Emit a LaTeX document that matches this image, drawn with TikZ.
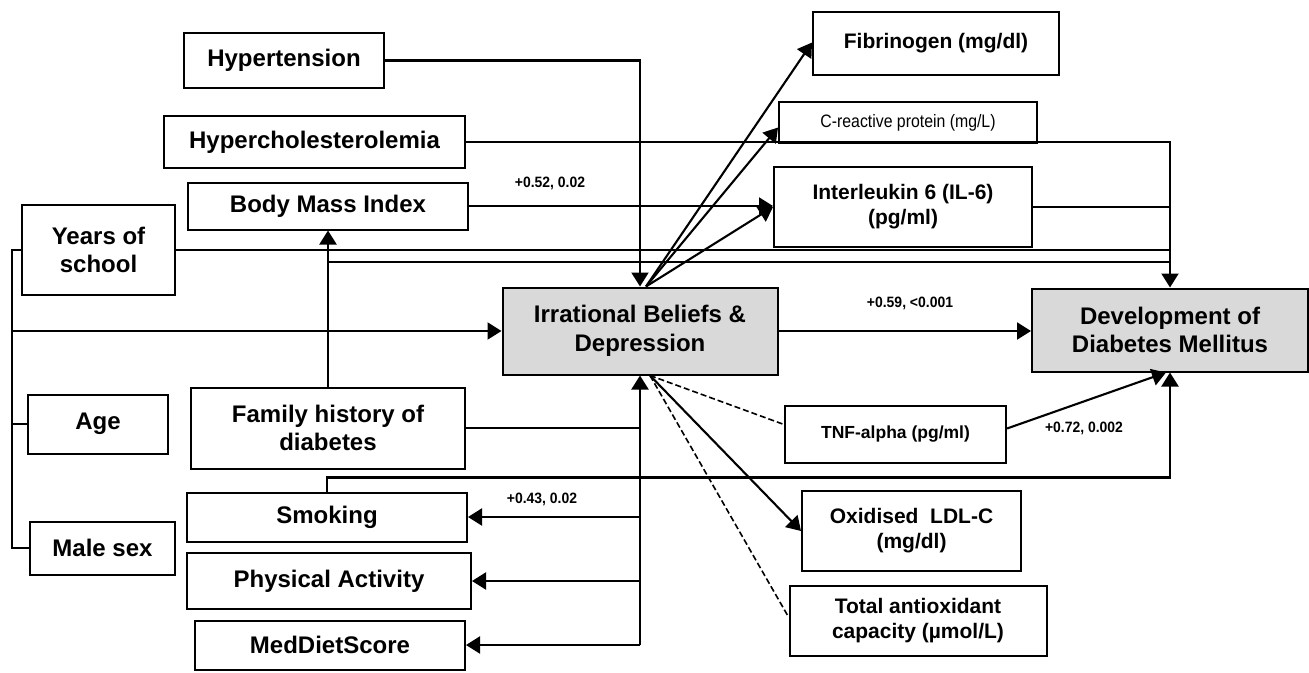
\documentclass[tikz,border=0pt]{standalone}
\usepackage{fontspec}
\setmainfont{Liberation Sans}
\newfontfamily\narrowf[FakeStretch=0.88]{Liberation Sans}
\newfontfamily\labf[FakeStretch=0.93]{Liberation Sans}
\usetikzlibrary{arrows.meta}
\definecolor{boxgray}{HTML}{D9D9D9}
\begin{document}
\begin{tikzpicture}[x=1pt,y=-1pt,
  box/.style={draw,line width=2pt,inner sep=0pt,align=center,font=\fontsize{24}{28.5}\selectfont\bfseries},
  mbox/.style={box,font=\fontsize{21}{25}\selectfont\bfseries},
  gbox/.style={box,fill=boxgray},
  conn/.style={line width=2.1pt},
  arr/.style={conn,-{Triangle[length=14pt,width=17pt]}},
  dsh/.style={line width=1.6pt,dash pattern=on 6pt off 3pt},
  lab/.style={font=\labf\fontsize{15}{18}\selectfont\bfseries}
]
\useasboundingbox (0,0) rectangle (1309,672);

% left column boxes
\node[box,minimum width=200pt,minimum height=55pt] (hyp) at (284,60.5) {Hypertension};
\node[box,minimum width=301pt,minimum height=52pt] (hchol) at (314.5,142) {Hypercholesterolemia};
\node[box,minimum width=280pt,minimum height=47pt] (bmi) at (328,206) {Body Mass Index};
\node[box,minimum width=153pt,minimum height=90pt] (years) at (98.5,250) {Years of\\school};
\node[box,minimum width=140pt,minimum height=59pt] (age) at (98,424) {Age};
\node[box,minimum width=145pt,minimum height=53pt] (male) at (102.5,548) {Male sex};
\node[box,minimum width=274pt,minimum height=81pt] (fam) at (328,428) {Family history of\\diabetes};
\node[box,minimum width=280pt,minimum height=49pt] (smok) at (327,517) {Smoking};
\node[box,minimum width=284pt,minimum height=56pt] (phys) at (329,581) {Physical Activity};
\node[box,minimum width=270pt,minimum height=49pt] (med) at (330,645) {MedDietScore};

% central boxes
\node[gbox,minimum width=275pt,minimum height=87pt] (ib) at (640,331) {Irrational Beliefs \&\\Depression};
\node[gbox,minimum width=276pt,minimum height=83pt] (dm) at (1170,330) {Development of\\Diabetes Mellitus};

% right column boxes
\node[mbox,minimum width=246pt,minimum height=63pt] (fib) at (936,43.5) {Fibrinogen (mg/dl)};
\node[box,font=\narrowf\fontsize{18}{21}\selectfont,minimum width=258pt,minimum height=41pt] (crp) at (908,122.5) {C-reactive protein (mg/L)};
\node[mbox,minimum width=258pt,minimum height=80pt] (il6) at (903,207) {Interleukin 6 (IL-6)\\(pg/ml)};
\node[box,font=\fontsize{17.5}{21}\selectfont\bfseries,minimum width=221pt,minimum height=57pt] (tnf) at (895.5,434.5) {TNF-alpha (pg/ml)};
\node[mbox,minimum width=219pt,minimum height=80pt] (ox) at (911.5,531) {Oxidised\ \ LDL-C\\(mg/dl)};
\node[mbox,minimum width=257pt,minimum height=70pt] (tac) at (918,621) {Total antioxidant\\capacity (µmol/L)};

% helper coordinates
\coordinate (bt) at (12,250);
\coordinate (bl) at (12,548);
\coordinate (famj) at (328,262);

% connectors into Irrational Beliefs
\draw[arr] (hyp.east) -| (ib.north);
\draw[conn] (years.west) -- (bt) -- (bl) -- (male.west);
\draw[conn] (age.west) -- (age.west -| bt);
\draw[arr] (ib.west -| bt) -- (ib.west);
\draw[conn] (fam.east) -- (fam.east -| ib.south);
\draw[arr] (med.east -| ib.south) -- (ib.south);
\draw[arr] (smok.east -| ib.south) -- (smok.east);
\draw[arr] (phys.east -| ib.south) -- (phys.east);
\draw[arr] (med.east -| ib.south) -- (med.east);

% connectors into Diabetes Mellitus
\draw[arr] (hchol.east) -| (dm.north);
\draw[conn] (years.east) -- (years.east -| dm.north);
\draw[conn] (famj) -- (famj -| dm.north);
\draw[conn] (il6.east) -- (il6.east -| dm.north);
\draw[arr] (fam.north) -- (bmi.south);
\draw[arr] (bmi.east) -- (bmi.east -| il6.west);
\draw[arr] (smok.north) -- ++(0,-14) -| (dm.south);
\draw[arr] (ib.east) -- (ib.east -| dm.west);
\draw[arr] ([yshift=6pt]tnf.east) -- ([xshift=-4pt]dm.south);

% from Irrational Beliefs to biomarkers
\draw[arr] ([xshift=6pt]ib.north) -- ([yshift=1pt]fib.west);
\draw[arr] ([xshift=6pt]ib.north) -- ([yshift=-5pt]crp.west);
\draw[arr] ([xshift=6pt]ib.north) -- (il6.west);
\draw[dsh] ([xshift=10pt]ib.south) -- ([yshift=10pt]tnf.west);
\draw[arr] ([xshift=10pt]ib.south) -- (ox.west);
\draw[dsh] ([xshift=10pt]ib.south) -- ([yshift=4pt]tac.west);

% labels
\node[lab] (l1) at (550,183) {+0.52, 0.02};
\node[lab] (l2) at (910,303) {+0.59, <0.001};
\node[lab] (l3) at (542,499) {+0.43, 0.02};
\node[lab] (l4) at (1084,428) {+0.72, 0.002};
\end{tikzpicture}
\end{document}
